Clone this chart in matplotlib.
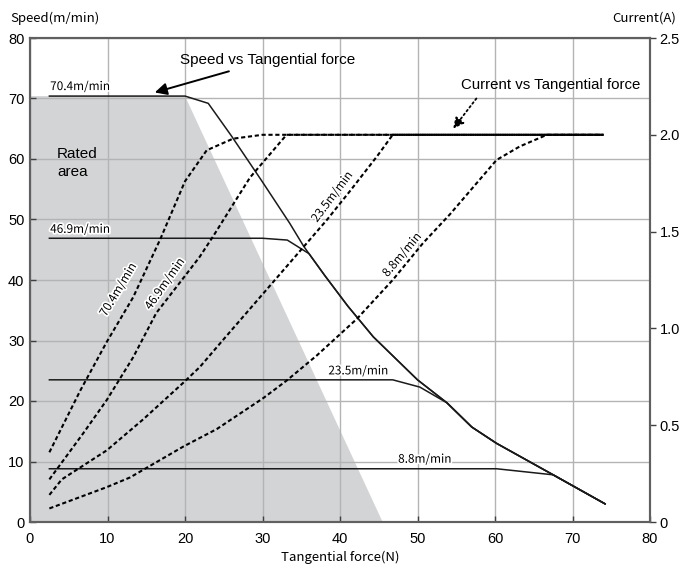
import matplotlib
matplotlib.use("Agg")
import matplotlib.pyplot as plt
import matplotlib.patheffects as pe

# rated (shaded) area outline, tangential force (N) / speed (m/min)
rated_x = [0, 0, 20, 45.5]
rated_y = [0, 70.4, 70.4, 0]

# speed vs tangential force (m/min)
spd704_x = [2.5, 20, 23, 26, 30, 33.5, 35.3, 38, 41, 44.3, 50, 53.8, 57, 60.2, 67.5, 74.2]
spd704_y = [70.4, 70.4, 69.2, 63.8, 56.2, 49.4, 45.6, 40.8, 35.7, 30.6, 23.5, 19.7, 15.7, 13, 7.8, 3]
spd469_x = [2.5, 30, 33.2, 36, 38, 41, 44.3, 50, 53.8, 57, 60.2, 67.5, 74.2]
spd469_y = [46.9, 46.9, 46.6, 44.35, 40.8, 35.7, 30.6, 23.5, 19.7, 15.7, 13, 7.8, 3]
spd235_x = [2.5, 46.8, 50.3, 53.8, 57, 60.2, 67.5, 74.2]
spd235_y = [23.5, 23.5, 22.3, 19.7, 15.7, 13, 7.8, 3]
spd88_x = [2.5, 60.2, 67.5, 74.2]
spd88_y = [8.8, 8.8, 7.8, 3]

# current vs tangential force (A)
cur704_x = [2.5, 6.5, 9.9, 13.3, 16.8, 20, 22.8, 26.2, 30, 74]
cur704_y = [0.36, 0.68, 0.93, 1.16, 1.46, 1.76, 1.92, 1.98, 2.0, 2.0]
cur469_x = [2.5, 6.9, 9.9, 13.3, 16.3, 19.4, 21.9, 23.7, 26.2, 28.4, 33.1, 74]
cur469_y = [0.22, 0.46, 0.63, 0.85, 1.08, 1.24, 1.37, 1.48, 1.64, 1.78, 2.0, 2.0]
cur235_x = [2.5, 4.1, 9.9, 14.6, 19.8, 21.9, 24.9, 31.6, 38.3, 41.3, 44.8, 46.8, 74]
cur235_y = [0.14, 0.22, 0.37, 0.53, 0.72, 0.80, 0.94, 1.25, 1.56, 1.71, 1.89, 2.0, 2.0]
cur88_x = [2.5, 9.9, 12.9, 19.8, 24.1, 30.1, 33.1, 37, 42.2, 46.8, 50.7, 54.2, 57.2, 60.2, 63.2, 66.7, 74]
cur88_y = [0.07, 0.18, 0.23, 0.39, 0.48, 0.64, 0.73, 0.86, 1.05, 1.25, 1.44, 1.59, 1.73, 1.87, 1.94, 2.0, 2.0]

speed_labels = ["70.4m/min", "46.9m/min", "23.5m/min", "8.8m/min"]

TXT = ["Liberation Sans", "DejaVu Sans"]
JP = ["Noto Sans CJK JP", "DejaVu Sans"]
halo = [pe.withStroke(linewidth=2.5, foreground="white")]

fig = plt.figure(figsize=(6.88, 5.69), dpi=100)
ax = fig.add_axes([30 / 688, 1 - 522 / 569, 620 / 688, 484 / 569])
ax2 = ax.twinx()

ax.set_xlim(0, 80)
ax.set_ylim(0, 80)
ax2.set_ylim(0, 2.5)

# shaded rated area
ax.fill(rated_x, rated_y, color="#d3d4d6", lw=0, zorder=0)

ax.set_xticks(range(0, 81, 10))
ax.set_yticks(range(0, 81, 10))
ax.grid(True, color="#b4b4b4", lw=1.0, zorder=1)
ax.set_axisbelow(True)

# speed curves
for xs, ys in [(spd704_x, spd704_y), (spd469_x, spd469_y),
               (spd235_x, spd235_y), (spd88_x, spd88_y)]:
    ax.plot(xs, ys, color="#1a1a1a", lw=1.1, zorder=3)

# current curves (right axis)
for xs, ys in [(cur704_x, cur704_y), (cur469_x, cur469_y),
               (cur235_x, cur235_y), (cur88_x, cur88_y)]:
    ax2.plot(xs, ys, color="black", lw=1.5, dashes=(2, 1.3), zorder=3)

# flat line labels
ax.text(2.6, 70.9, speed_labels[0], fontsize=8.5, family=JP, va="bottom", ha="left",
        path_effects=halo)
ax.text(2.6, 47.3, speed_labels[1], fontsize=8.5, family=JP, va="bottom", ha="left",
        path_effects=halo)
ax.text(38.5, 23.9, speed_labels[2], fontsize=8.5, family=JP, va="bottom", ha="left",
        path_effects=halo)
ax.text(47.5, 9.3, speed_labels[3], fontsize=8.5, family=JP, va="bottom", ha="left",
        path_effects=halo)

# rotated labels on current curves
ax2.text(11.4, 1.20, speed_labels[0], fontsize=8.5, family=JP, rotation=59,
         ha="center", va="center", path_effects=halo, zorder=4)
ax2.text(17.4, 1.23, speed_labels[1], fontsize=8.5, family=JP, rotation=55,
         ha="center", va="center", path_effects=halo, zorder=4)
ax2.text(39.0, 1.68, speed_labels[2], fontsize=8.5, family=JP, rotation=53,
         ha="center", va="center", path_effects=halo, zorder=4)
ax2.text(48.0, 1.38, speed_labels[3], fontsize=8.5, family=JP, rotation=50,
         ha="center", va="center", path_effects=halo, zorder=4)

ax.text(3.5, 59.3, "Rated\narea", fontsize=11, family=TXT, ha="left", va="center",
        linespacing=1.4)

# annotations
ax.annotate("Speed vs Tangential force", xy=(16.1, 71.0), xytext=(19.3, 76.3),
            fontsize=11, family=TXT, ha="left", va="center",
            arrowprops=dict(arrowstyle="-|>", color="black", lw=1.4,
                            mutation_scale=18, shrinkA=3, shrinkB=0))
ax.text(55.6, 72.3, "Current vs Tangential force", fontsize=10.8, family=TXT,
        ha="left", va="center")
ax.annotate("", xy=(54.6, 65.0), xytext=(57.6, 70.0),
            arrowprops=dict(arrowstyle="-|>", color="black", lw=1.3, ls=":",
                            mutation_scale=16, shrinkA=0, shrinkB=0))

# axes styling
for a in (ax, ax2):
    for s in a.spines.values():
        s.set_color("#606060")
        s.set_linewidth(1.5)
ax.tick_params(axis="both", direction="in", length=4, width=1, color="#404040",
               labelsize=10.5)
ax.tick_params(axis="x", pad=7)
ax.tick_params(axis="y", pad=4)
ax2.set_yticks([0, 0.5, 1.0, 1.5, 2.0, 2.5])
ax2.set_yticklabels(["0", "0.5", "1.0", "1.5", "2.0", "2.5"])
ax2.tick_params(axis="y", direction="out", length=4, width=1, color="#404040",
                labelsize=10.5, pad=3)
for lab in ax.get_xticklabels() + ax.get_yticklabels() + ax2.get_yticklabels():
    lab.set_family(TXT)

fig.text(10 / 688, 1 - 18 / 569, "Speed(m/min)", fontsize=9.5, family=JP,
         ha="left", va="center")
fig.text(676 / 688, 1 - 18 / 569, "Current(A)", fontsize=9.5, family=JP,
         ha="right", va="center")
fig.text(340 / 688, 1 - 557 / 569, "Tangential force(N)", fontsize=9.5, family=JP,
         ha="center", va="center")

fig.savefig("out.png", dpi=100, facecolor="white")
